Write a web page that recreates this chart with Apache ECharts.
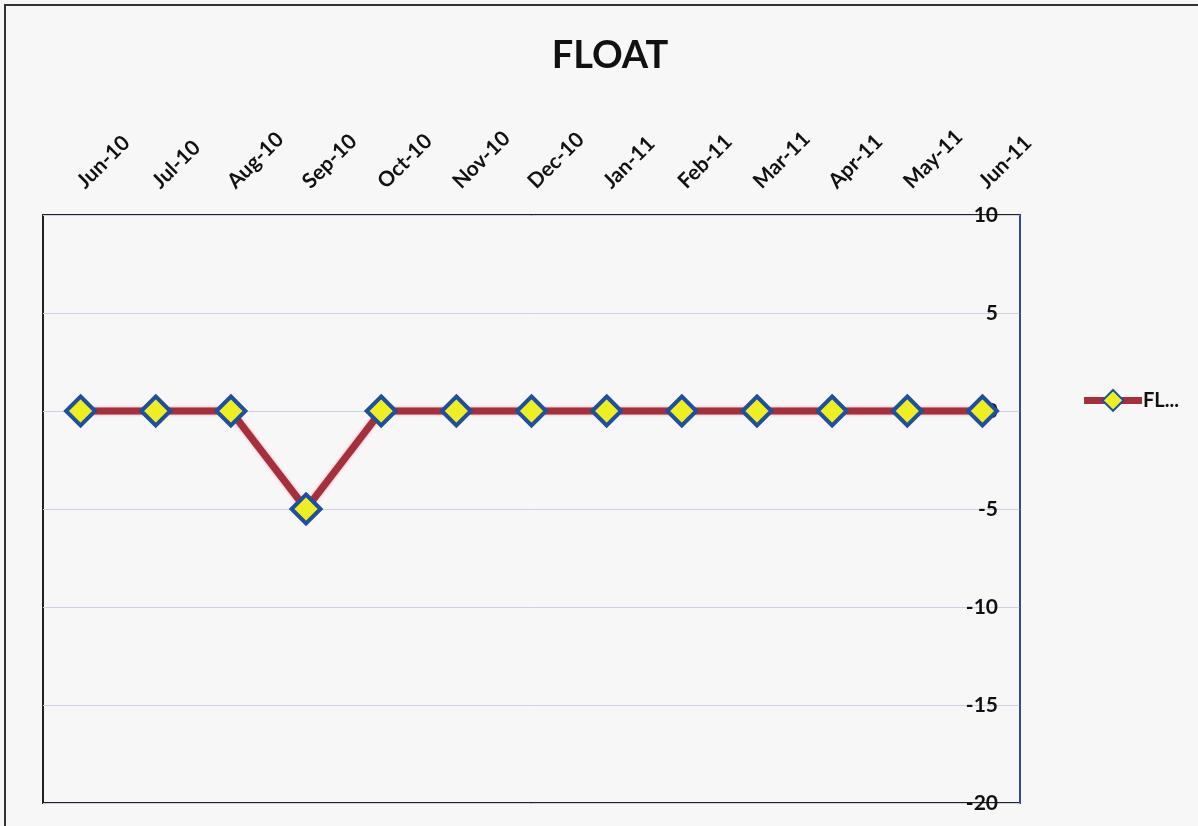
<!DOCTYPE html>
<html><head><meta charset="utf-8">
<script src="https://cdn.jsdelivr.net/npm/echarts@6/dist/echarts.min.js"></script>
<style>html,body{margin:0;padding:0;background:#f7f7f7;}#c{width:1198px;height:826px;}</style>
</head><body><div id="c"></div>
<script>
const categories = ['Jun-10','Jul-10','Aug-10','Sep-10','Oct-10','Nov-10','Dec-10','Jan-11','Feb-11','Mar-11','Apr-11','May-11','Jun-11'];
const floatValues = [0,0,0,-5,0,0,0,0,0,0,0,0,0];
const seriesName = 'FLOAT';
const legendLabel = 'FL...';
const yMin = -20, yMax = 10, yStep = 5;

const chart = echarts.init(document.getElementById('c'));
chart.setOption({
  backgroundColor: '#f7f7f7',
  animation: false,
  title: { text: 'FLOAT', left: 605, top: 32, textAlign: 'center',
    textStyle: { fontFamily: 'Lato', fontWeight: 'bold', fontSize: 38, color: '#111' } },
  graphic: [{ type: 'rect', shape: { x: 5, y: 5, width: 1400, height: 1000 },
    style: { fill: 'none', stroke: '#333', lineWidth: 2 }, silent: true }],
  legend: { right: 14, top: 384, itemWidth: 58, itemHeight: 26, itemGap: 4,
    formatter: () => legendLabel,
    lineStyle: { width: 7 },
    textStyle: { fontFamily: 'Lato', fontWeight: 'bold', fontSize: 20, color: '#111', padding: [0,0,0,-4] } },
  grid: { left: 43, right: 178, top: 215, bottom: 23, show: true, borderColor: '#222', borderWidth: 2, backgroundColor: '#f7f7f7' },
  xAxis: { type: 'category', data: categories, position: 'top', boundaryGap: true,
    axisLine: { show: false }, axisTick: { show: false },
    axisLabel: { rotate: 45, margin: 30, fontFamily: 'Lato', fontWeight: 'bold', fontSize: 21, color: '#111' } },
  yAxis: { type: 'value', min: yMin, max: yMax, interval: yStep, position: 'right',
    axisLine: { show: true, lineStyle: { color: '#3a5ab0', width: 1.5 } },
    axisTick: { show: false },
    splitLine: { lineStyle: { color: '#cbd2e4', width: 1 } },
    axisLabel: { inside: true, margin: 22, fontFamily: 'Lato', fontWeight: 'bold', fontSize: 21, color: '#111' } },
  series: [{
    name: seriesName, type: 'line', data: floatValues,
    symbol: 'diamond', symbolSize: 29,
    lineStyle: { color: '#a52f3b', width: 7, shadowColor: 'rgba(230,80,100,0.6)', shadowBlur: 3 },
    itemStyle: { color: '#eeee22', borderColor: '#1f4f9f', borderWidth: 4 },
    z: 3
  }]
});
</script></body></html>
